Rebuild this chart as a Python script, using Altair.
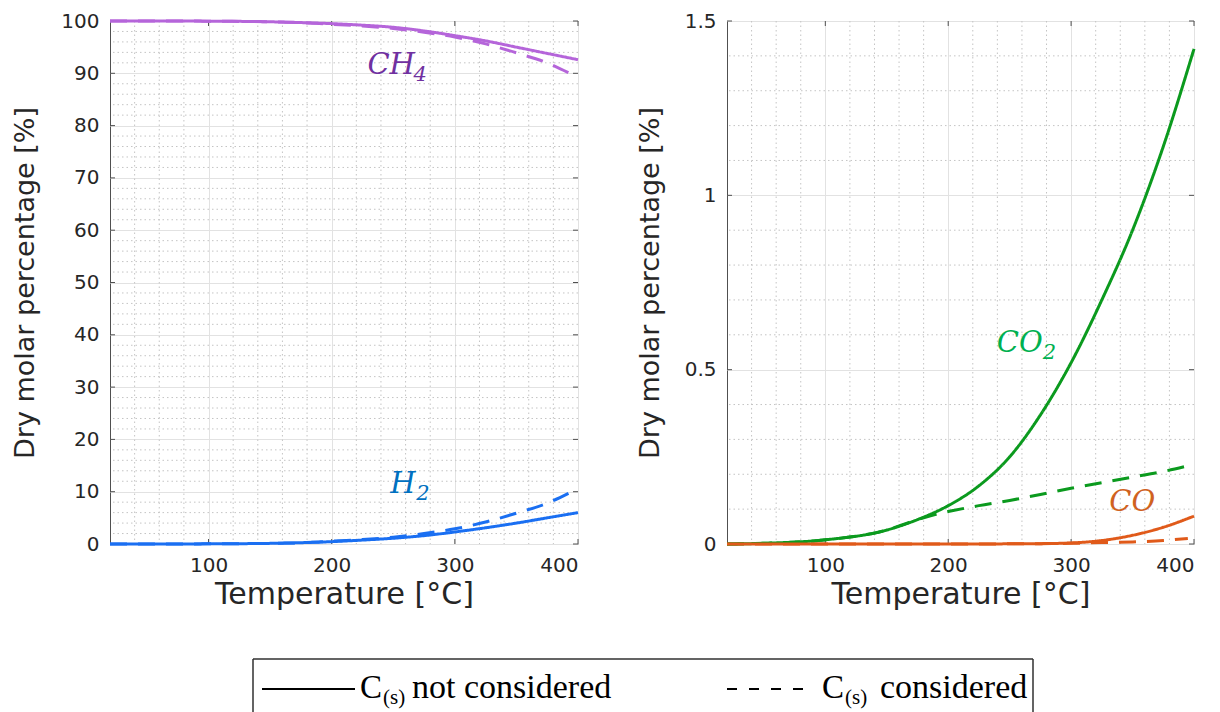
import altair as alt
import pandas as pd

# ---------------- data ----------------
T_SOLID = [20, 50, 100, 150, 175, 200, 225, 250, 275, 300, 325, 350, 375, 400]
CH4_SOLID = [100, 100, 99.97, 99.85, 99.7, 99.5, 99.2, 98.8, 98.1, 97.2, 96.2, 95.0, 93.8, 92.6]
H2_SOLID = [0, 0, 0.03, 0.12, 0.25, 0.45, 0.75, 1.1, 1.6, 2.3, 3.1, 4.0, 5.0, 6.0]
CO2_SOLID = [0, 0.002, 0.012, 0.04, 0.07, 0.11, 0.167, 0.25, 0.37, 0.52, 0.70, 0.90, 1.14, 1.42]
CO_SOLID = [0, 0, 0, 0, 0, 0, 0, 0.0005, 0.001, 0.003, 0.01, 0.025, 0.048, 0.08]

T_DASH = [20, 50, 100, 150, 175, 190, 200, 225, 250, 275, 300, 325, 350, 375, 395]
CH4_DASH = [100, 100, 99.96, 99.84, 99.68, 99.51, 99.36, 99.04, 98.58, 97.86, 96.94, 95.62, 93.91, 91.99, 89.78]
H2_DASH = [0, 0, 0.03, 0.12, 0.25, 0.4, 0.55, 0.85, 1.3, 2.0, 2.9, 4.2, 5.9, 7.8, 10.0]
CO2_DASH = [0, 0.002, 0.012, 0.04, 0.07, 0.085, 0.093, 0.11, 0.125, 0.142, 0.16, 0.176, 0.192, 0.208, 0.224]
CO_DASH = [0, 0, 0, 0, 0, 0, 0, 0, 0.0005, 0.001, 0.002, 0.004, 0.006, 0.01, 0.016]

X_TICKS = [100, 200, 300, 400]
X_MINOR = [40, 60, 80, 120, 140, 160, 180, 220, 240, 260, 280, 320, 340, 360, 380]
Y_LEFT_TICKS = [0, 10, 20, 30, 40, 50, 60, 70, 80, 90, 100]
Y_LEFT_MINOR = [v for v in range(2, 100, 2) if v % 10 != 0]
Y_RIGHT_TICKS = [0, 0.5, 1.0, 1.5]
Y_RIGHT_MINOR = [0.1, 0.2, 0.3, 0.4, 0.6, 0.7, 0.8, 0.9, 1.1, 1.2, 1.3, 1.4]

SPECIES = ["CH4", "H2", "CO2", "CO"]
LINE_COLORS = ["#b565da", "#1a6ff2", "#0b9a1e", "#e05a1a"]

# annotation labels: (main text, subscript, T, value, colour, subscript dx)
LEFT_LABELS = [("CH", "4", 229, 89.9, "#7030a0", 46), ("H", "2", 247.6, 9.75, "#0070c0", 26)]
RIGHT_LABELS = [("CO", "2", 239.5, 0.551, "#00b050", 46), ("CO", "", 331, 0.095, "#d0621f", 0)]

W_L, W_R, H = 468, 467, 523
FONT = "DejaVu Sans"
TXT = "#262626"
GRID = "#e2e2e2"
MINOR = "#c4c4c4"
FRAME = "#505050"


def long_df(species, solid, dash):
    rows = []
    for sp, ys in zip(species, solid):
        for t, v in zip(T_SOLID, ys):
            rows.append({"T": t, "v": v, "species": sp, "style": "solid"})
    for sp, ys in zip(species, dash):
        for t, v in zip(T_DASH, ys):
            rows.append({"T": t, "v": v, "species": sp, "style": "dashed"})
    return pd.DataFrame(rows)


def panel(df, ymax, yticks, yminor, yfmt, labels, width, title_pad):
    xs = alt.Scale(domain=[20, 400], nice=False, zero=False)
    ys = alt.Scale(domain=[0, ymax], nice=False, zero=False)
    common = dict(grid=True, gridColor=GRID, gridWidth=1, ticks=False, tickSize=0, domain=False,
                  labelFont=FONT, titleFont=FONT, labelColor=TXT, titleColor=TXT,
                  titleFontWeight="normal", labelFontSize=20)
    xa = alt.Axis(values=X_TICKS, title="Temperature [°C]", labelPadding=11, titlePadding=4,
                  titleFontSize=30, **common)
    ya = alt.Axis(values=yticks, format=yfmt, title="Dry molar percentage [%]",
                  labelPadding=11, titlePadding=title_pad, titleFontSize=27, **common)

    def X(f):
        return alt.X(f, scale=xs, axis=xa)

    def Y(f):
        return alt.Y(f, scale=ys, axis=ya)

    lines = alt.Chart(df).mark_line(strokeWidth=3, interpolate="monotone", strokeCap="butt").encode(
        x=X("T:Q"), y=Y("v:Q"),
        color=alt.Color("species:N", scale=alt.Scale(domain=SPECIES, range=LINE_COLORS), legend=None),
        strokeDash=alt.StrokeDash("style:N", scale=alt.Scale(domain=["solid", "dashed"],
                                                               range=[[1, 0], [17, 11]]), legend=None),
    )

    minor_x = alt.Chart(pd.DataFrame({"T": X_MINOR})).mark_rule(
        color=MINOR, strokeDash=[1.5, 3], strokeWidth=1).encode(x=X("T:Q"))
    minor_y = alt.Chart(pd.DataFrame({"v": yminor})).mark_rule(
        color=MINOR, strokeDash=[1.5, 3], strokeWidth=1).encode(y=Y("v:Q"))

    tick_l = alt.Chart(pd.DataFrame({"v": yticks})).mark_rule(color=FRAME, strokeWidth=1).encode(
        y=Y("v:Q"), x=alt.value(0), x2=alt.value(5))
    tick_r = alt.Chart(pd.DataFrame({"v": yticks})).mark_rule(color=FRAME, strokeWidth=1).encode(
        y=Y("v:Q"), x=alt.value(width - 5), x2=alt.value(width))
    tick_b = alt.Chart(pd.DataFrame({"T": X_TICKS})).mark_rule(color=FRAME, strokeWidth=1).encode(
        x=X("T:Q"), y=alt.value(H - 5), y2=alt.value(H))
    tick_t = alt.Chart(pd.DataFrame({"T": X_TICKS})).mark_rule(color=FRAME, strokeWidth=1).encode(
        x=X("T:Q"), y=alt.value(0), y2=alt.value(5))

    layers = [minor_x, minor_y, tick_l, tick_r, tick_b, tick_t, lines]
    for main, sub, t, v, col, dx in labels:
        d = pd.DataFrame({"T": [t], "v": [v], "main": [main], "sub": [sub]})
        layers.append(alt.Chart(d).mark_text(
            font="DejaVu Serif", fontStyle="italic", fontSize=29, align="left",
            baseline="alphabetic", color=col).encode(x=X("T:Q"), y=Y("v:Q"), text="main:N"))
        if sub:
            layers.append(alt.Chart(d).mark_text(
                font="DejaVu Serif", fontStyle="italic", fontSize=21, align="left",
                baseline="alphabetic", color=col, dx=dx, dy=7).encode(
                x=X("T:Q"), y=Y("v:Q"), text="sub:N"))
    return layers


left_df = long_df(["CH4", "H2"], [CH4_SOLID, H2_SOLID], [CH4_DASH, H2_DASH])
right_df = long_df(["CO2", "CO"], [CO2_SOLID, CO_SOLID], [CO2_DASH, CO_DASH])

left_layers = panel(left_df, 100, Y_LEFT_TICKS, Y_LEFT_MINOR, "d", LEFT_LABELS, W_L, 21)
right_layers = panel(right_df, 1.5, Y_RIGHT_TICKS, Y_RIGHT_MINOR, ".1~f", RIGHT_LABELS, W_R, 20)

# ---------------- legend (drawn below the panels, pixel positions) ----------------
one = pd.DataFrame({"k": [0]})
LEG_TEXT = "Liberation Serif"


def leg_text(txt, x, y, size):
    return alt.Chart(one).mark_text(font=LEG_TEXT, fontSize=size, align="left", baseline="alphabetic",
                                    color="black", text=txt).encode(x=alt.value(x), y=alt.value(y))


legend = [
    alt.Chart(one).mark_rule(color="#303030", strokeWidth=1.5).encode(
        x=alt.value(143), x2=alt.value(923), y=alt.value(638)),
    alt.Chart(one).mark_rule(color="#303030", strokeWidth=1.5).encode(
        x=alt.value(143), y=alt.value(638), y2=alt.value(692)),
    alt.Chart(one).mark_rule(color="#303030", strokeWidth=1.5).encode(
        x=alt.value(923), y=alt.value(638), y2=alt.value(692)),
    alt.Chart(one).mark_rule(color="black", strokeWidth=2).encode(
        x=alt.value(152), x2=alt.value(245), y=alt.value(668)),
    alt.Chart(one).mark_rule(color="black", strokeWidth=2, strokeDash=[10, 12]).encode(
        x=alt.value(617), x2=alt.value(703), y=alt.value(668)),
    leg_text("C", 250, 677, 33),
    leg_text("(s)", 273, 683, 21),
    leg_text("not considered", 302, 677, 34),
    leg_text("C", 712, 677, 33),
    leg_text("(s)", 735, 683, 21),
    leg_text("considered", 770, 677, 34),
]

left = alt.layer(*left_layers, *legend).properties(width=W_L, height=H)
right = alt.layer(*right_layers).properties(width=W_R, height=H)

chart = alt.hconcat(left, right, spacing=149, bounds="flush").properties(
    padding={"left": 11, "top": 10, "right": 2, "bottom": 0},
    background="white",
).configure_view(stroke=FRAME, strokeWidth=1).configure_axis(
    labelFont=FONT, titleFont=FONT, labelColor=TXT, titleColor=TXT, titleFontWeight="normal"
)

chart.save("out.html", embed_options={"renderer": "svg", "actions": False})
